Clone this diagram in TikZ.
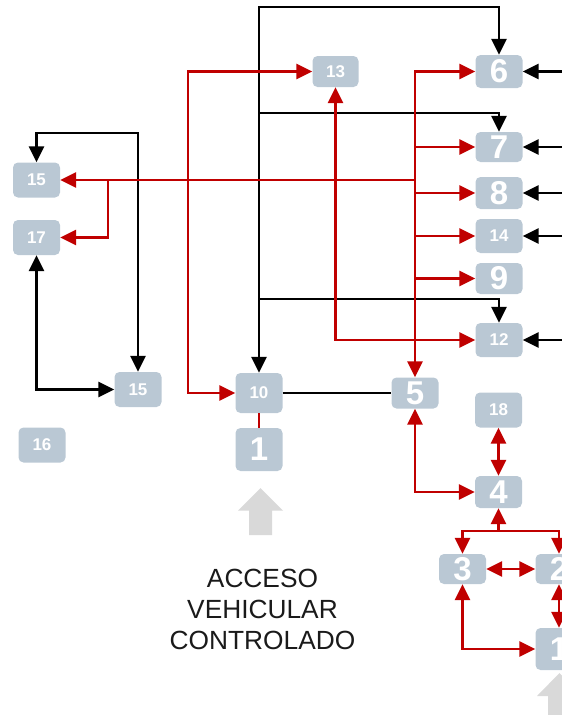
\documentclass[tikz,border=0pt]{standalone}
\usepackage{fontspec}
\setmainfont{Liberation Sans}
\usetikzlibrary{arrows.meta}
\definecolor{BoxGrey}{HTML}{BAC8D4}
\definecolor{LinkRed}{HTML}{C00000}
\definecolor{AccessGrey}{HTML}{D9D9D9}
\definecolor{LabelText}{HTML}{1A1A1A}

\begin{document}
\begin{tikzpicture}[x=1pt,y=-1pt,
        >={Triangle[length=16pt,width=15pt]},
        box/.style={fill=BoxGrey,rounded corners=5pt,minimum width=47pt,minimum height=34pt,
                    inner sep=0pt,text=white,font=\fontsize{17}{17}\selectfont\bfseries},
        big/.style={box,font=\fontsize{33}{33}\selectfont\bfseries},
        blk/.style={draw=black,line width=2.6pt},
        redln/.style={draw=LinkRed,line width=2.6pt},
        acc/.style={font=\fontsize{26.3}{31}\selectfont,color=LabelText,align=center}]
      \useasboundingbox (0,0) rectangle (562,715);
      \clip (0,0) rectangle (562,715);
      % zones
      \node[big,minimum height=33pt]            (b6)   at (499,71.5)  {6};
      \node[box,minimum height=31pt,minimum width=46pt] (b13) at (335.5,71.5) {13};
      \node[big,minimum height=30pt]            (b7)   at (499,147)   {7};
      \node[big,minimum height=32pt]            (b8)   at (499,193)   {8};
      \node[box]                                (b14)  at (499,236)   {14};
      \node[big,minimum height=31pt]            (b9)   at (499,278.5) {9};
      \node[box]                                (b12)  at (499,340)   {12};
      \node[box,minimum height=35pt]            (b15a) at (36.5,180)  {15};
      \node[box,minimum height=35pt]            (b17)  at (36.5,237.5){17};
      \node[box,minimum height=35pt]            (b15b) at (138,389.5) {15};
      \node[box,minimum height=40pt]            (b10)  at (259,393)   {10};
      \node[big,minimum height=43pt]            (b1)   at (259,449.5) {1};
      \node[big,minimum height=31pt]            (b5)   at (415,393)   {5};
      \node[box,minimum height=35pt]            (b16)  at (42,445)    {16};
      \node[box,minimum height=35pt]            (b18)  at (498.5,410) {18};
      \node[big,minimum height=32pt]            (b4)   at (498.5,492) {4};
      \node[big,minimum height=30pt]            (b3)   at (462.5,569) {3};
      \node[big,minimum height=30pt]            (b2)   at (559,569)   {2};
      \node[big,minimum height=42pt]            (b1b)  at (559,649)   {1};
      % black links
      \coordinate (ktop) at (259,7);
      \coordinate (k7)   at (259,113);
      \coordinate (k12)  at (259,299);
      \coordinate (k15)  at (138,133);
      \draw[blk,<->] (b10.north) -- (ktop) -| (b6.north);
      \draw[blk,->] (k7) -| (b7.north);
      \draw[blk,->] (k12) -| (b12.north);
      \foreach \n in {b6,b7,b8,b14,b12}
        \draw[blk,<-] (\n.east) -- ++(50,0);
      \draw[blk] (b10.east) -- (b5.west);
      \draw[blk,<->] (b15a.north) |- (k15) -- (b15b.north);
      \draw[blk,<->] (b17.south) |- (b15b.west);
      % red links
      \coordinate (k17) at (108,180);
      \coordinate (k10) at (188,393);
      \coordinate (k4)  at (498.5,531);
      \draw[redln,<->] (b5.north) |- (b6.west);
      \foreach \n in {b7,b8,b14,b9}
        \draw[redln,->] (b5.north |- \n.west) -- (\n.west);
      \draw[redln,->] (b5.north |- b15a.east) -- (b15a.east);
      \draw[redln,->] (k17) |- (b17.east);
      \draw[redln,<->] (b13.south) |- (b12.west);
      \draw[redln,<->] (b13.west) -| (k10) -- (b10.west);
      \draw[redln] (b10.south) -- (b1.north);
      \draw[redln,<->] (b5.south) |- (b4.west);
      \draw[redln,<->] (b18.south) -- (b4.north);
      \draw[redln,->] (k4) -- (b4.south);
      \draw[redln,->] (k4) -| (b3.north);
      \draw[redln,->] (k4) -| (b2.north);
      \draw[redln,<->] (b3.east) -- (b2.west);
      \draw[redln,<->] (b2.south) -- (b1b.north);
      \draw[redln,<->] (b3.south) |- (b1b.west);
      % access arrows
      \fill[AccessGrey] (249,535) -- (249,510.5) -- (238,510.5) -- (260.5,488) -- (283,510.5)
                        -- (272,510.5) -- (272,535) -- cycle;
      \fill[AccessGrey] (548,720) -- (548,696) -- (537,696) -- (559.5,673) -- (582,696)
                        -- (571,696) -- (571,720) -- cycle;
      \node[acc] (acceso) at (262.5,609) {ACCESO\\VEHICULAR\\CONTROLADO};
    \end{tikzpicture}
\end{document}
